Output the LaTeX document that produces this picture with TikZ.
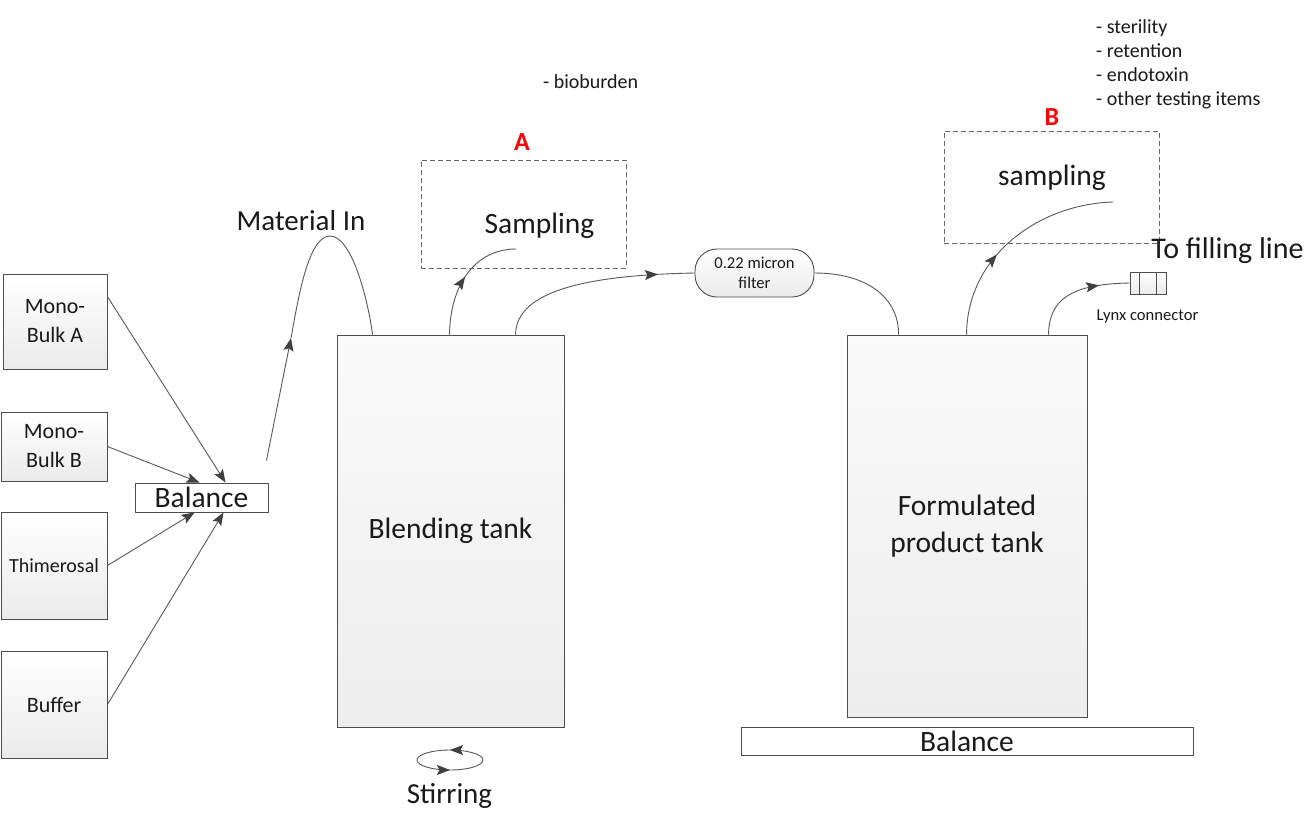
\documentclass[tikz,border=0pt]{standalone}
\usepackage{fontspec}
\setmainfont{Carlito}
\usetikzlibrary{arrows.meta,decorations.markings,calc}
\newcommand\fsz[2]{\fontsize{#1pt}{#2pt}\selectfont}
\definecolor{linec}{HTML}{595959}
\definecolor{boxc}{HTML}{4D4D4D}
\definecolor{txtc}{HTML}{1A1A1A}
\tikzset{
  box/.style={draw=boxc, line width=0.9pt, top color=white, bottom color=black!8,
    align=center, inner sep=0pt, text=txtc},
  tank/.style={draw=boxc, line width=0.9pt, top color=white!98!black, bottom color=black!7,
    align=center, inner sep=0pt, text=txtc},
  plainbox/.style={draw=boxc, line width=0.9pt, fill=white, align=center, inner sep=0pt, text=txtc},
  dashbox/.style={draw=black!60, line width=0.9pt, dash pattern=on 5pt off 3pt, inner sep=0pt},
  conn/.style={draw=linec, line width=0.9pt},
  arr/.style={conn, -{Stealth[length=13pt,width=10pt,inset=2.5pt,color=black!75]}},
  midarrow/.style={conn, postaction={decorate},
    decoration={markings, mark=at position #1 with {\arrow{Stealth[length=13pt,width=10pt,inset=2.5pt,color=black!75]}}}},
  lbl/.style={inner sep=0pt, text=txtc},
  redlbl/.style={inner sep=0pt, text=red, font=\fsz{26}{30}\bfseries},
}
\begin{document}
\begin{tikzpicture}[x=1pt,y=-1pt]
\fill[white] (0,0) rectangle (1310,815);
\useasboundingbox (0,0) rectangle (1310,815);

% left source boxes
\node[box, minimum width=104pt, minimum height=95pt, font=\fsz{22}{29}] (monoA) at (55,321.5) {Mono-\\Bulk A};
\node[box, minimum width=106pt, minimum height=69pt, font=\fsz{22}{29}] (monoB) at (54,446.5) {Mono-\\Bulk B};
\node[box, minimum width=106pt, minimum height=107pt, font=\fsz{20}{24}] (thim) at (54,565.5) {Thimerosal};
\node[box, minimum width=106pt, minimum height=107pt, font=\fsz{22}{27}] (buffer) at (54,704.5) {Buffer};

% small balance
\node[plainbox, minimum width=133pt, minimum height=29pt, font=\fsz{29.5}{34}] (bal1) at (201.5,497.5) {Balance};

\draw[arr] ($(monoA.north east)+(0,23)$) -- ($(bal1.north west)+(91,0)$);
\draw[arr] (monoB.east) -- ($(bal1.north west)+(65,0)$);
\draw[arr] (thim.east) -- ($(bal1.south west)+(60,0)$);
\draw[arr] (buffer.east) -- ($(bal1.south west)+(89,0)$);

% tanks
\node[tank, minimum width=227pt, minimum height=392pt, font=\fsz{29.5}{36}] (blend) at (450.5,531) {Blending tank};
\node[tank, minimum width=240pt, minimum height=382pt, font=\fsz{29.5}{37}] (form) at (967,526) {Formulated\\product tank};
\node[plainbox, minimum width=452pt, minimum height=28pt, font=\fsz{29.5}{34}] (bal2) at (967,741) {Balance};

% material in
\coordinate (mi0) at ($(bal1.north east)+(-2,-22)$);
\coordinate (mi1) at (291,338);
\draw[arr] (mi0) -- (mi1);
\draw[conn] (mi1) .. controls (298,300) and (308,236) .. (330,236)
  .. controls (352,236) and (368,300) .. ($(blend.north west)+(36,0)$);
\node[lbl, anchor=base, font=\fsz{29}{34}] (matin) at (301,230) {Material In};

% sampling A
\node[dashbox, minimum width=205pt, minimum height=108pt] (sampA) at (523.5,214) {};
\node[lbl, anchor=base, font=\fsz{29.5}{34}] (sampAt) at (539.5,233) {Sampling};
\node[redlbl, anchor=base] (labA) at (522,150) {A};
\coordinate (sampAend) at (516,249);
\draw[midarrow=0.5] ($(blend.north west)+(113,0)$) .. controls (450,285) and (475,249) .. (sampAend);
\node[lbl, anchor=base west, font=\fsz{20}{24}] (biob) at (543,88) {- bioburden};

% filter
\node[draw=boxc, line width=0.9pt, rounded corners=22pt, top color=white, bottom color=black!8,
  minimum width=119pt, minimum height=48pt, align=center, inner sep=0pt, text=txtc,
  font=\fsz{16.6}{20}] (filter) at (754.5,273) {0.22 micron\\filter};
\draw[midarrow=0.82] ($(blend.north west)+(179,0)$) .. controls (516,290) and (590,275) .. (filter.west);
\draw[conn] (filter.east) .. controls (870,273) and (899,300) .. ($(form.north west)+(52,0)$);

% sampling B
\node[dashbox, minimum width=215pt, minimum height=112pt] (sampB) at (1051.5,187) {};
\node[lbl, anchor=base, font=\fsz{29.5}{34}] (sampBt) at (1052,185) {sampling};
\node[redlbl, anchor=base] (labB) at (1052,125) {B};
\coordinate (sampBend) at (1113,202);
\draw[midarrow=0.4] ($(form.north west)+(120,0)$) .. controls (967,255) and (1040,204) .. (sampBend);

\node[lbl, anchor=base west, font=\fsz{20}{24}] (t1) at (1096,33) {- sterility};
\node[lbl, anchor=base west, font=\fsz{20}{24}] (t2) at (1096,57.3) {- retention};
\node[lbl, anchor=base west, font=\fsz{20}{24}] (t3) at (1096,81.6) {- endotoxin};
\node[lbl, anchor=base west, font=\fsz{20}{24}] (t4) at (1096,105.9) {- other testing items};

% lynx connector
\node[box, minimum width=36pt, minimum height=22pt] (lynx) at (1148,283) {};
\draw[draw=boxc, line width=0.8pt] ($(lynx.north west)+(10,0)$) -- ($(lynx.south west)+(10,0)$);
\draw[draw=boxc, line width=0.8pt] ($(lynx.north west)+(27,0)$) -- ($(lynx.south west)+(27,0)$);
\draw[midarrow=0.72] ($(form.north west)+(202,0)$) .. controls (1049,300) and (1070,284) .. (lynx.west);
\node[lbl, anchor=base, font=\fsz{16.6}{20}] (lynxt) at (1147.5,320) {Lynx connector};
\node[lbl, anchor=base, font=\fsz{30}{34}] (tofill) at (1227.5,258) {To filling line};

% stirring
\draw[conn, postaction={decorate}, decoration={markings,
   mark=at position 0.25 with {\arrowreversed{Stealth[length=13pt,width=10pt,inset=2.5pt,color=black!75]}},
   mark=at position 0.75 with {\arrowreversed{Stealth[length=13pt,width=10pt,inset=2.5pt,color=black!75]}}}]
   (450,760) ellipse [x radius=33, y radius=10];
\node[lbl, anchor=base, font=\fsz{29}{34}] (stir) at (449.5,803) {Stirring};
\end{tikzpicture}
\end{document}
